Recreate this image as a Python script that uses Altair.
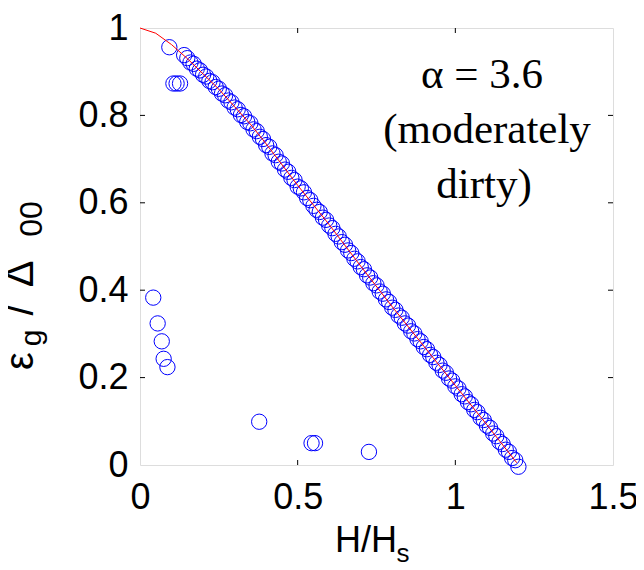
import altair as alt
import pandas as pd

# ---- data ----
main_x = [0.14, 0.15, 0.16, 0.17, 0.18, 0.19, 0.20, 0.21, 0.22, 0.23, 0.24, 0.25, 0.26, 0.27,
          0.28, 0.29, 0.30, 0.31, 0.32, 0.33, 0.34, 0.35, 0.36, 0.37, 0.38, 0.39, 0.40, 0.41,
          0.42, 0.43, 0.44, 0.45, 0.46, 0.47, 0.48, 0.49, 0.50, 0.51, 0.52, 0.53, 0.54, 0.55,
          0.56, 0.57, 0.58, 0.59, 0.60, 0.61, 0.62, 0.63, 0.64, 0.65, 0.66, 0.67, 0.68, 0.69,
          0.70, 0.71, 0.72, 0.73, 0.74, 0.75, 0.76, 0.77, 0.78, 0.79, 0.80, 0.81, 0.82, 0.83,
          0.84, 0.85, 0.86, 0.87, 0.88, 0.89, 0.90, 0.91, 0.92, 0.93, 0.94, 0.95, 0.96, 0.97,
          0.98, 0.99, 1.00, 1.01, 1.02, 1.03, 1.04, 1.05, 1.06, 1.07, 1.08, 1.09, 1.10, 1.11,
          1.12, 1.13, 1.14, 1.15, 1.16, 1.17, 1.18, 1.19, 1.20]
main_y = [0.938, 0.931, 0.921, 0.918, 0.907, 0.903, 0.893, 0.889, 0.879, 0.876, 0.865, 0.861,
          0.850, 0.846, 0.834, 0.830, 0.818, 0.814, 0.801, 0.798, 0.785, 0.782, 0.768, 0.764,
          0.751, 0.746, 0.732, 0.728, 0.713, 0.709, 0.694, 0.690, 0.676, 0.671, 0.657, 0.652,
          0.637, 0.633, 0.624, 0.611, 0.606, 0.593, 0.584, 0.579, 0.566, 0.561, 0.548, 0.542,
          0.529, 0.523, 0.510, 0.504, 0.491, 0.485, 0.472, 0.466, 0.453, 0.448, 0.434, 0.429,
          0.416, 0.411, 0.397, 0.392, 0.379, 0.373, 0.360, 0.355, 0.342, 0.337, 0.324, 0.319,
          0.306, 0.301, 0.288, 0.283, 0.270, 0.265, 0.252, 0.247, 0.234, 0.229, 0.216, 0.211,
          0.198, 0.193, 0.180, 0.175, 0.162, 0.157, 0.144, 0.139, 0.126, 0.121, 0.108, 0.103,
          0.090, 0.085, 0.072, 0.066, 0.053, 0.048, 0.035, 0.030, 0.016, 0.011, -0.004]

outlier_x = [0.093, 0.106, 0.116, 0.127, 0.042, 0.056, 0.069, 0.075, 0.087, 0.378, 0.544, 0.555, 0.726]
outlier_y = [0.956, 0.873, 0.873, 0.873, 0.383, 0.324, 0.283, 0.243, 0.224, 0.099, 0.050, 0.050, 0.030]

line_x = [0.0, 0.05, 0.10, 0.15, 0.20, 0.25, 0.30, 0.35, 0.40, 0.50, 0.60, 0.70, 0.80, 0.90, 1.00, 1.10, 1.195]
line_y = [1.0, 0.988, 0.962, 0.930, 0.895, 0.860, 0.820, 0.780, 0.735, 0.640, 0.550, 0.455, 0.362, 0.272, 0.182, 0.092, 0.005]

x_ticks = [0, 0.5, 1, 1.5]
y_ticks = [0, 0.2, 0.4, 0.6, 0.8, 1]
x_inner_ticks = [0.5, 1.0]
y_inner_ticks = [0.2, 0.4, 0.6, 0.8]

annot_lines = ["α = 3.6", "(moderately", "dirty)"]

W, H = 473, 437
SANS = "Liberation Sans"
SERIF = "Liberation Serif"

pts = pd.DataFrame({"x": main_x + outlier_x, "y": main_y + outlier_y})
line_df = pd.DataFrame({"x": line_x, "y": line_y})

xs = alt.Scale(domain=[0, 1.5], nice=False, zero=False)
ys = alt.Scale(domain=[0, 1], nice=False, zero=False)

axis_common = dict(ticks=False, domain=False, grid=False, labelFontSize=36, labelFont=SANS,
                   labelColor="black", labelFlush=False, labelOverlap=False, format="~g", title=None)
x_axis = alt.Axis(values=x_ticks, labelPadding=15, **axis_common)
y_axis = alt.Axis(values=y_ticks, labelPadding=12, **axis_common)

X = alt.X("x:Q", scale=xs, axis=x_axis)
Y = alt.Y("y:Q", scale=ys, axis=y_axis)

circles = alt.Chart(pts).mark_point(
    shape="circle", filled=False, color="#0000ff", size=235, strokeWidth=1, opacity=1
).encode(x=X, y=Y)

redline = alt.Chart(line_df).mark_line(color="#ff0000", strokeWidth=1).encode(x=X, y=Y)

xt = pd.DataFrame({"x": x_inner_ticks})
yt = pd.DataFrame({"y": y_inner_ticks})
tick_bottom = alt.Chart(xt).mark_rule(color="black", strokeWidth=1).encode(
    x=X, y=alt.value(H), y2=alt.value(H - 5))
tick_top = alt.Chart(xt).mark_rule(color="black", strokeWidth=1).encode(
    x=X, y=alt.value(0), y2=alt.value(5))
tick_left = alt.Chart(yt).mark_rule(color="black", strokeWidth=1).encode(
    y=Y, x=alt.value(0), x2=alt.value(5))
tick_right = alt.Chart(yt).mark_rule(color="black", strokeWidth=1).encode(
    y=Y, x=alt.value(W), x2=alt.value(W - 5))


def txt(t, x, y, size, font=SANS, angle=0, align="center", baseline="alphabetic"):
    kw = dict(font=font, fontSize=size, color="black", align=align, baseline=baseline)
    if angle:
        kw["angle"] = angle
    return alt.Chart(pd.DataFrame({"t": [t]})).mark_text(**kw).encode(
        text="t:N", x=alt.value(x), y=alt.value(y))


annot = [txt(annot_lines[0], 342, 60, 43, font=SERIF),
         txt(annot_lines[1], 347, 115, 43, font=SERIF),
         txt(annot_lines[2], 344, 170, 43, font=SERIF)]

xtitle = [txt("H/H", 226, 524, 36), txt("s", 263, 534, 26)]

ytitle = [txt("ε", -107, 333, 40, angle=270),
          txt("g", -99, 310, 30, angle=270),
          txt("/", -107, 282, 40, angle=270),
          txt("Δ", -107, 246, 40, angle=270),
          txt("00", -98, 191, 32, angle=270)]

chart = alt.layer(
    circles, redline, tick_bottom, tick_top, tick_left, tick_right, *annot, *xtitle, *ytitle
).properties(
    width=W, height=H,
    padding={"left": 132, "top": 20, "right": 23, "bottom": 97},
    autosize=alt.AutoSizeParams(type="none"),
).configure_view(
    stroke="black", strokeWidth=2
).configure(background="white")

chart.save("out.html", embed_options={"renderer": "svg", "actions": False})
